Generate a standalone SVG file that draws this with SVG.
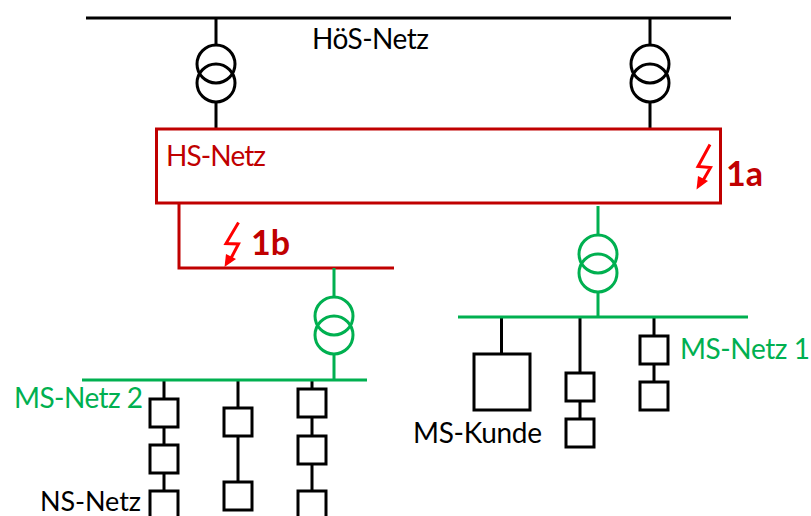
<svg xmlns="http://www.w3.org/2000/svg" width="811" height="516" viewBox="0 0 811 516">
<style>
.k{stroke:#000;fill:none;stroke-width:3}
.r{stroke:#C00000;fill:none;stroke-width:3}
.g{stroke:#00B050;fill:none;stroke-width:3}
.b{fill:#fff;stroke:#000;stroke-width:3}
.t{font-family:Lato,"Open Sans",sans-serif;font-size:28px}
.h{font-family:Lato,"Open Sans",sans-serif;font-size:34px;font-weight:700;fill:#C00000}
.bolt{fill:none;stroke:#FF0000;stroke-width:3}
</style>
<g id="connectors">
<path class="k" d="M86 18H731M216 18V45M216 102V129M650 18V45M650 102V129"/>
<path class="k" d="M164 380V399M164 427V445M164 473V491M238 380V408M238 436V482M312 380V389M312 417V436M312 464V491"/>
<path class="k" d="M501.500 317V354M580 317V373M580 401V419M654 317V336M654 364V382"/>
<path class="r" d="M179 203V268H394"/>
<path class="g" d="M334 268V297M334 354V380M82 380H367M598 206V235M598 292V317M458 317H748"/>
</g>
<g id="bus-hoes"><text class="t" x="312" y="49" textLength="117">HöS-Netz</text></g>
<g id="trafo-1"><circle class="k" cx="216" cy="64" r="19"/><circle class="k" cx="216" cy="83" r="19"/></g>
<g id="trafo-2"><circle class="k" cx="650" cy="64" r="19"/><circle class="k" cx="650" cy="83" r="19"/></g>
<g id="hs-netz"><rect class="r" x="156.500" y="129" width="564" height="74"/><text class="t" x="166" y="166" textLength="100" fill="#C00000">HS-Netz</text></g>
<g id="fault-1a">
<path class="bolt" d="M710 144.500L698 166.500L710.500 167.500L701 184"/><path d="M696.500 189.500L698 176L708 181Z" fill="#FF0000"/>
<text class="h" x="726" y="186" textLength="37">1a</text></g>
<g id="fault-1b">
<path class="bolt" d="M238.500 222.500L226 243.500L238.500 244L229 262"/><path d="M224.500 267L226 254L236 259Z" fill="#FF0000"/>
<text class="h" x="251" y="255" textLength="39">1b</text></g>
<g id="trafo-3"><circle class="g" cx="334" cy="316" r="19"/><circle class="g" cx="334" cy="335" r="19"/></g>
<g id="trafo-4"><circle class="g" cx="598" cy="254" r="19"/><circle class="g" cx="598" cy="273" r="19"/></g>
<g id="ms-netz-1"><text class="t" x="680" y="359" textLength="130" fill="#00B050">MS-Netz 1</text></g>
<g id="ms-netz-2"><text class="t" x="14" y="408" textLength="129" fill="#00B050">MS-Netz 2</text></g>
<g id="ms-kunde"><rect class="b" x="474" y="354" width="56" height="56"/><text class="t" x="413" y="443" textLength="129">MS-Kunde</text></g>
<g id="ns-netz"><rect class="b" x="150" y="491" width="28" height="28"/><text class="t" x="40" y="511" textLength="101" style="font-size:27px">NS-Netz</text></g>
<g id="node-a1"><rect class="b" x="150" y="399" width="28" height="28"/></g>
<g id="node-a2"><rect class="b" x="150" y="445" width="28" height="28"/></g>
<g id="node-b1"><rect class="b" x="224" y="408" width="28" height="28"/></g>
<g id="node-b2"><rect class="b" x="224" y="482" width="28" height="28"/></g>
<g id="node-c1"><rect class="b" x="298" y="389" width="28" height="28"/></g>
<g id="node-c2"><rect class="b" x="298" y="436" width="28" height="28"/></g>
<g id="node-c3"><rect class="b" x="298" y="491" width="28" height="28"/></g>
<g id="node-d1"><rect class="b" x="566" y="373" width="28" height="28"/></g>
<g id="node-d2"><rect class="b" x="566" y="419" width="28" height="28"/></g>
<g id="node-e1"><rect class="b" x="640" y="336" width="28" height="28"/></g>
<g id="node-e2"><rect class="b" x="640" y="382" width="28" height="28"/></g>
</svg>
